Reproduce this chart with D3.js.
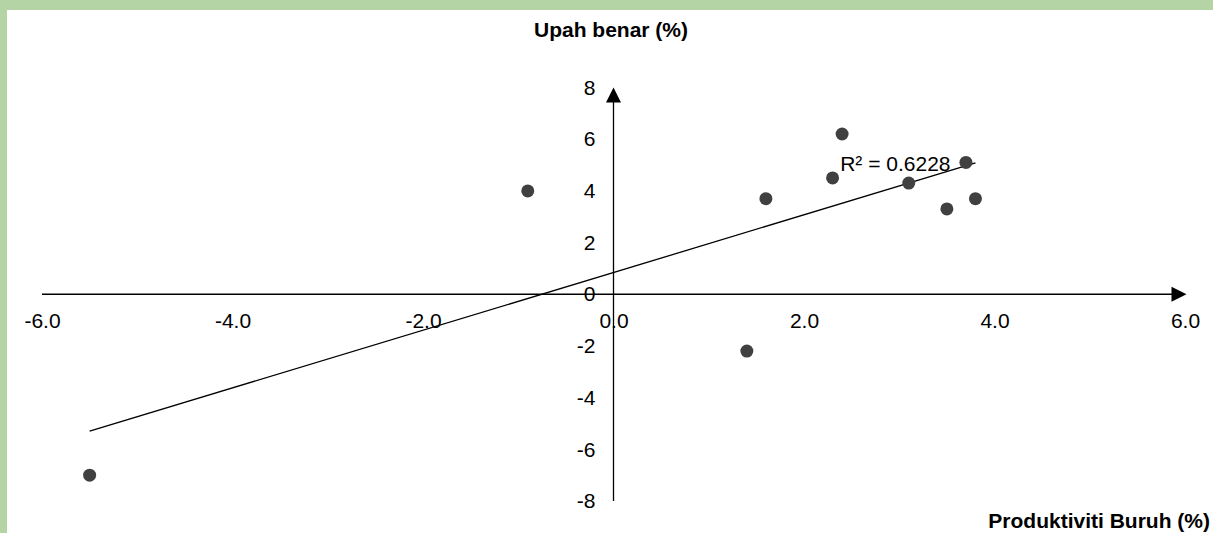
<!DOCTYPE html>
<html>
<head>
<meta charset="utf-8">
<script src="https://cdn.jsdelivr.net/npm/d3@7"></script>
<style>
  html, body { margin: 0; padding: 0; background: #ffffff; }
  svg { display: block; }
  text { font-family: Arial, "Liberation Sans", sans-serif; fill: #000; }
</style>
</head>
<body>
<svg id="chart" width="1213" height="533"></svg>
<script>
// ---- data ----
const productivity = [-0.9, 1.6, 2.3, 2.4, 3.1, 3.7, 3.5, 3.8, 1.4, -5.5];
const realWage     = [ 4.0, 3.7, 4.5, 6.2, 4.3, 5.1, 3.3, 3.7, -2.2, -7.0];
const xTicks = [-6, -4, -2, 0, 2, 4, 6];
const yTicks = [-8, -6, -4, -2, 0, 2, 4, 6, 8];
const xTitle = "Produktiviti Buruh (%)";
const yTitle = "Upah benar (%)";
const r2Label = "R\u00B2 = 0.6228";
const r2Pos = [2.38, 4.76];

const W = 1213, H = 533;
const svg = d3.select("#chart");

// frame
svg.append("rect").attr("x", 0).attr("y", 0).attr("width", W).attr("height", H).attr("fill", "#b4d4a6");
svg.append("rect").attr("x", 7).attr("y", 10).attr("width", W - 7).attr("height", H - 10).attr("fill", "#ffffff");

const x = d3.scaleLinear().domain([-6, 6]).range([42, 1185]);
const y = d3.scaleLinear().domain([-8, 8]).range([501, 87.5]);

const FS = 21;
const fmtX = d => d.toFixed(1);
const fmtY = d => String(d);

// x axis
const gx = svg.append("g").attr("transform", `translate(0,${y(0)})`)
  .call(d3.axisBottom(x).tickValues(xTicks).tickSize(0).tickPadding(19).tickFormat(fmtX));
gx.select(".domain").remove();
gx.selectAll("text").attr("font-size", FS).attr("font-family", "Arial, 'Liberation Sans', sans-serif").attr("fill", "#000");

// y axis
const gy = svg.append("g").attr("transform", `translate(${x(0)},0)`)
  .call(d3.axisLeft(y).tickValues(yTicks).tickSize(0).tickPadding(18).tickFormat(fmtY));
gy.select(".domain").remove();
gy.selectAll("text").attr("font-size", FS).attr("font-family", "Arial, 'Liberation Sans', sans-serif").attr("fill", "#000");

// axis lines with arrowheads
const AL = 15, AW = 7.5;
const xEnd = x(6) + 1.5;
svg.append("line").attr("x1", x(-6)).attr("x2", xEnd - AL + 1).attr("y1", y(0)).attr("y2", y(0))
  .attr("stroke", "#000").attr("stroke-width", 1.3);
svg.append("path").attr("d", `M${xEnd},${y(0)} L${xEnd - AL},${y(0) - AW} L${xEnd - AL},${y(0) + AW} Z`).attr("fill", "#000");

const yEnd = y(8);
svg.append("line").attr("x1", x(0)).attr("x2", x(0)).attr("y1", y(-8)).attr("y2", yEnd + AL - 1)
  .attr("stroke", "#000").attr("stroke-width", 1.3);
svg.append("path").attr("d", `M${x(0)},${yEnd} L${x(0) - AW},${yEnd + AL} L${x(0) + AW},${yEnd + AL} Z`).attr("fill", "#000");

// linear trendline (least squares)
const n = productivity.length;
const mx = d3.mean(productivity), my = d3.mean(realWage);
let sxy = 0, sxx = 0;
for (let i = 0; i < n; i++) { sxy += (productivity[i] - mx) * (realWage[i] - my); sxx += (productivity[i] - mx) ** 2; }
const slope = sxy / sxx, icpt = my - slope * mx;
const [xmin, xmax] = d3.extent(productivity);
svg.append("line")
  .attr("x1", x(xmin)).attr("y1", y(icpt + slope * xmin))
  .attr("x2", x(xmax)).attr("y2", y(icpt + slope * xmax))
  .attr("stroke", "#000").attr("stroke-width", 1.3);

// points
svg.append("g").selectAll("circle").data(productivity.map((v, i) => [v, realWage[i]]))
  .join("circle")
  .attr("cx", d => x(d[0])).attr("cy", d => y(d[1])).attr("r", 6.5)
  .attr("fill", "#404040");

// R² label
svg.append("text").attr("x", x(r2Pos[0])).attr("y", y(r2Pos[1]))
  .attr("font-size", FS).text(r2Label);

// titles
svg.append("text").attr("x", 611).attr("y", 36.5).attr("text-anchor", "middle")
  .attr("font-size", FS).attr("font-weight", "bold").text(yTitle);
svg.append("text").attr("x", 1210).attr("y", 527.5).attr("text-anchor", "end")
  .attr("font-size", FS).attr("font-weight", "bold").text(xTitle);
</script>
</body>
</html>
